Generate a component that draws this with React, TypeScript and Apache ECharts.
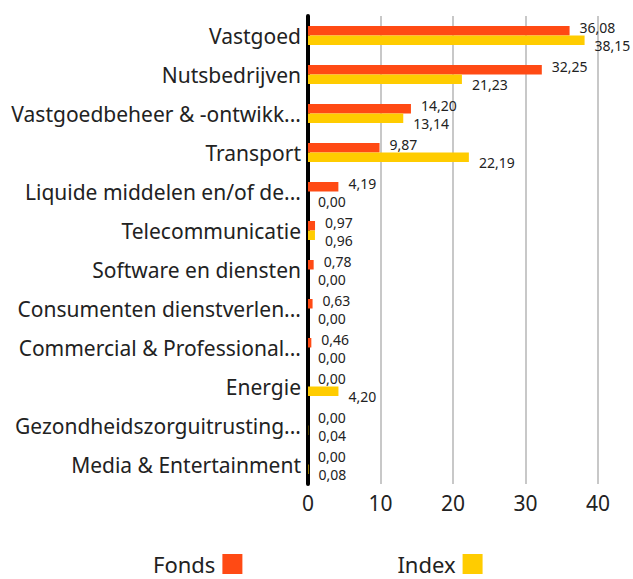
import React, { useEffect, useRef } from "react";
import * as echarts from "echarts";

const categories = [
  "Vastgoed",
  "Nutsbedrijven",
  "Vastgoedbeheer & -ontwikk...",
  "Transport",
  "Liquide middelen en/of de...",
  "Telecommunicatie",
  "Software en diensten",
  "Consumenten dienstverlen...",
  "Commercial & Professional...",
  "Energie",
  "Gezondheidszorguitrusting...",
  "Media & Entertainment",
];
const fondsValues = [36.08, 32.25, 14.2, 9.87, 4.19, 0.97, 0.78, 0.63, 0.46, 0.0, 0.0, 0.0];
const indexValues = [38.15, 21.23, 13.14, 22.19, 0.0, 0.96, 0.0, 0.0, 0.0, 4.2, 0.04, 0.08];
const xTicks = [0, 10, 20, 30, 40];

const FONT = "'Noto Sans', sans-serif";
const fmt = (v: number) => v.toFixed(2).replace(".", ",");

export default function App() {
  const ref = useRef<HTMLDivElement>(null);
  useEffect(() => {
    if (!ref.current) return;
    const chart = echarts.init(ref.current, null, { renderer: "svg" });
    chart.setOption({
      animation: false,
      textStyle: { fontFamily: FONT },
      legend: {
        left: 153,
        top: 553,
        padding: 0,
        itemWidth: 20,
        itemHeight: 20,
        itemGap: 155,
        align: "right",
        icon: "rect",
        textStyle: {
          fontSize: 22,
          lineHeight: 20,
          color: "#222",
          fontFamily: FONT,
          padding: [0, 2, 0, 0],
        },
        data: ["Fonds", "Index"],
      },
      grid: { left: 308, right: 35, top: 16, bottom: 95, containLabel: false },
      xAxis: {
        type: "value",
        min: xTicks[0],
        max: xTicks[xTicks.length - 1],
        interval: 10,
        axisLine: { show: false },
        axisTick: { show: false },
        axisLabel: { fontSize: 21, color: "#222", margin: 8, fontFamily: FONT },
        splitLine: { show: true, lineStyle: { color: "#c8c8c8", width: 2 } },
      },
      yAxis: {
        type: "category",
        data: categories,
        inverse: true,
        axisLine: { show: true, lineStyle: { color: "#000", width: 4 } },
        axisTick: { show: false },
        axisLabel: { fontSize: 21, color: "#222", margin: 7, fontFamily: FONT },
        splitLine: { show: false },
      },
      series: [
        {
          name: "Fonds",
          type: "bar",
          data: fondsValues,
          barWidth: 9.5,
          barGap: "0%",
          itemStyle: { color: "#FF4A14" },
          label: {
            show: true,
            position: "right",
            distance: 10,
            offset: [0, -3],
            fontSize: 14,
            color: "#222",
            fontFamily: FONT,
            formatter: (p: any) => fmt(p.value),
          },
        },
        {
          name: "Index",
          type: "bar",
          data: indexValues,
          barWidth: 9.5,
          barGap: "0%",
          itemStyle: { color: "#FFCC00" },
          label: {
            show: true,
            position: "right",
            distance: 10,
            offset: [0, 5],
            fontSize: 14,
            color: "#222",
            fontFamily: FONT,
            formatter: (p: any) => fmt(p.value),
          },
        },
      ],
    });
    return () => chart.dispose();
  }, []);
  return (
    <div
      ref={ref}
      style={{ position: "fixed", left: 0, top: 0, width: 633, height: 579, background: "#fff" }}
    />
  );
}
